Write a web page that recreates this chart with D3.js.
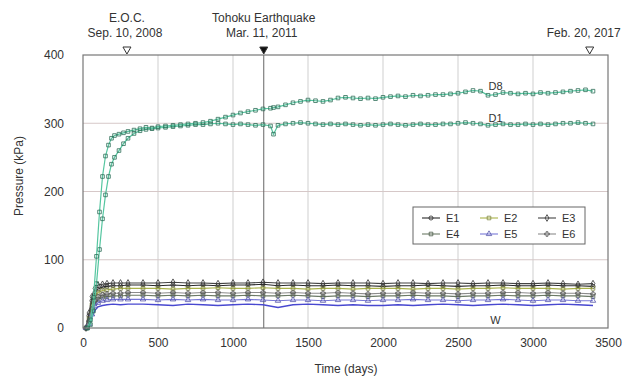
<!DOCTYPE html>
<html>
<head>
<meta charset="utf-8">
<script src="https://cdn.jsdelivr.net/npm/d3@7"></script>
<style>
  html, body { margin: 0; padding: 0; background: #fff; }
  svg { display: block; font-family: "Liberation Sans", Arial, sans-serif; }
</style>
</head>
<body>
<svg id="chart" width="638" height="378"></svg>
<script>
// ---- data -------------------------------------------------------------
// measurement days for the D gauges
const dDays = [30,50,70,90,110,130,150,170,190,210,
  240,270,300,340,380,420,460,500,
  550,600,650,700,750,800,850,900,950,1000,1050,1100,1150,1200,1250,
  1270,
  1300,1350,1400,1450,1500,1550,1600,1650,1700,1750,1800,1850,1900,1950,
  2000,2050,2100,2150,2200,2250,2300,2350,2400,2450,2500,2550,2600,2650,
  2700,2750,2800,2850,2900,2950,3000,3050,3100,3150,3200,3250,3300,3350,3400];

const d8 = [0,12,45,105,170,222,252,268,278,282,
  284,286,288,290,292,294,293,295,
  296,297,298,299,300,301,303,306,309,312,315,317,319,321,322,
  323,
  324,327,330,332,334,333,332,334,337,338,337,336,337,336,
  338,339,340,339,341,340,341,342,342,343,344,346,348,347,
  341,342,345,344,343,344,343,345,344,345,346,347,348,349,347];

const d1 = [0,5,25,65,115,160,195,222,240,250,
  260,270,278,285,289,291,292,293,
  294,295,296,297,298,298,299,300,299,298,299,298,297,298,296,
  284,
  297,299,300,301,300,299,298,299,298,299,298,297,298,297,
  298,299,298,297,298,299,298,298,299,299,300,301,300,299,
  297,298,299,298,298,299,298,299,298,299,300,300,301,300,299];

// measurement days for the E gauges and W
const eDays = [20,40,60,80,100,130,160,200,250,300,
  400,500,600,700,800,900,1000,1100,1200,1300,
  1400,1500,1600,1700,1800,1900,2000,2100,2200,2300,
  2400,2500,2600,2700,2800,2900,3000,3100,3200,3300,3400];

const e1 = [0,18,40,52,57,60,61,62,62,63,
  63,62,63,62,63,62,63,63,64,62,63,62,62,63,62,62,61,62,62,63,62,61,62,62,63,62,62,63,62,62,61];
const e2 = [0,14,34,46,52,55,56,57,58,58,
  58,58,57,58,58,59,58,58,59,58,58,57,58,58,57,58,58,58,57,58,58,57,58,58,59,58,58,58,57,58,58];
const e3 = [0,22,46,58,63,64,65,66,66,66,
  66,66,67,66,66,65,66,66,67,66,66,66,65,66,66,66,65,66,66,65,66,66,65,66,66,65,65,66,65,64,65];
const e4 = [0,8,24,36,42,45,46,47,47,48,
  48,47,48,47,48,47,47,48,47,47,48,47,46,47,47,46,47,47,48,47,47,46,47,47,48,47,47,48,47,47,46];
const e5 = [0,6,20,32,37,40,41,42,42,42,
  42,41,42,41,42,41,41,42,41,40,41,41,40,41,41,40,41,41,42,41,41,40,41,41,42,41,40,41,41,40,40];
const e6 = [0,10,28,40,46,49,50,51,51,52,
  52,51,52,51,52,52,51,52,52,51,52,51,51,52,51,50,51,51,52,51,51,50,51,51,52,52,51,52,51,51,50];
const w = [0,5,16,26,31,33,34,35,34,35,
  35,34,33,35,34,33,34,35,34,30,34,35,34,33,34,33,33,34,33,34,35,34,33,34,35,34,33,34,35,34,33];

const eNames = ["E1","E2","E3","E4","E5","E6"];
const xTicks = [0,500,1000,1500,2000,2500,3000,3500];
const yTicks = [0,100,200,300,400];

// key dates (day number) with their captions
const eventDays = [293, 1205, 3378];
const eventTitles = ["E.O.C.", "Tohoku Earthquake", ""];
const eventDates = ["Sep. 10, 2008", "Mar. 11, 2011", "Feb. 20, 2017"];

// ---- layout -----------------------------------------------------------
const svg = d3.select("#chart");
const pL = 83, pR = 608, pT = 55, pB = 328;

const x = d3.scaleLinear().domain([0, 3500]).range([pL, pR]);
const y = d3.scaleLinear().domain([0, 400]).range([pB, pT]);

// grid
const grid = svg.append("g");
grid.selectAll(".gx").data(xTicks.slice(1, -1)).join("line")
  .attr("x1", d => x(d)).attr("x2", d => x(d))
  .attr("y1", pT).attr("y2", pB)
  .attr("stroke", "#cfcfcf").attr("stroke-width", 1);
grid.selectAll(".gy").data(yTicks.slice(1, -1)).join("line")
  .attr("x1", pL).attr("x2", pR)
  .attr("y1", d => y(d)).attr("y2", d => y(d))
  .attr("stroke", "#d6c8c8").attr("stroke-width", 1);

// earthquake marker line
svg.append("line")
  .attr("x1", x(eventDays[1])).attr("x2", x(eventDays[1]))
  .attr("y1", pT).attr("y2", pB)
  .attr("stroke", "#666").attr("stroke-width", 1);

// axes (labels only)
const xAxis = svg.append("g").attr("transform", `translate(0,${pB})`)
  .call(d3.axisBottom(x).tickValues(xTicks).tickFormat(d3.format("d"))
    .tickSize(0).tickPadding(10));
const yAxis = svg.append("g").attr("transform", `translate(${pL},0)`)
  .call(d3.axisLeft(y).tickValues(yTicks).tickFormat(d3.format("d"))
    .tickSize(0).tickPadding(19));
[xAxis, yAxis].forEach(a => {
  a.select(".domain").remove();
  a.selectAll("text").attr("font-size", 12).attr("fill", "#333")
    .attr("font-family", "Liberation Sans, Arial, sans-serif");
});

svg.append("text").attr("x", 346).attr("y", 373)
  .attr("text-anchor", "middle").attr("font-size", 12).attr("fill", "#333")
  .text("Time (days)");
svg.append("text")
  .attr("transform", "translate(23,176) rotate(-90)")
  .attr("text-anchor", "middle").attr("font-size", 12).attr("fill", "#333")
  .text("Pressure (kPa)");

// ---- series -----------------------------------------------------------
const lineGen = d3.line().x(d => x(d[0])).y(d => y(d[1]));
const zip = (days, vals) => days.map((d, i) => [d, vals[i]]);

const plot = svg.append("g");

function drawSeries(days, vals, lineColor, markColor, symbol, size, fill, lw) {
  const pts = zip(days, vals);
  plot.append("path").datum(pts)
    .attr("d", lineGen).attr("fill", "none")
    .attr("stroke", lineColor).attr("stroke-width", lw);
  if (symbol) {
    plot.append("g").selectAll("path").data(pts).join("path")
      .attr("transform", d => `translate(${x(d[0])},${y(d[1])})`)
      .attr("d", d3.symbol().type(symbol).size(size))
      .attr("fill", fill).attr("stroke", markColor).attr("stroke-width", 0.8);
  }
}

const eStyle = [
  { line: "#2a2a2a", mark: "#2a2a2a", sym: d3.symbolCircle,   fill: "none" },
  { line: "#aab24a", mark: "#7e8640", sym: d3.symbolSquare,   fill: "none" },
  { line: "#444",    mark: "#333",    sym: d3.symbolDiamond,  fill: "none" },
  { line: "#6c7a66", mark: "#4a5a48", sym: d3.symbolSquare,   fill: "none" },
  { line: "#7878d8", mark: "#5555aa", sym: d3.symbolTriangle, fill: "none" },
  { line: "#8c8c8c", mark: "#555",    sym: d3.symbolCross,    fill: "none" }
];
const eVals = [e1, e2, e3, e4, e5, e6];

// W
drawSeries(eDays, w, "#4848d0", null, null, 0, "none", 1.4);
eVals.forEach((v, i) => {
  const s = eStyle[i];
  drawSeries(eDays, v, s.line, s.mark, s.sym, 13, s.fill, 1.1);
});

// D gauges
drawSeries(dDays, d1, "#55c6a0", "#2d6e58", d3.symbolSquare, 13, "none", 1.2);
drawSeries(dDays, d8, "#55c6a0", "#2d6e58", d3.symbolSquare, 13, "none", 1.2);

// plot frame
svg.append("rect").attr("x", pL).attr("y", pT)
  .attr("width", pR - pL).attr("height", pB - pT)
  .attr("fill", "none").attr("stroke", "#777").attr("stroke-width", 1.2);

// series labels
const lab = (t, day, v, dy) => svg.append("text")
  .attr("x", x(day)).attr("y", y(v) + dy)
  .attr("text-anchor", "middle").attr("font-size", 11).attr("fill", "#333").text(t);
lab("D8", 2750, d8[dDays.indexOf(2750)], -5);
lab("D1", 2750, d1[dDays.indexOf(2750)], -3);
lab("W", 2750, w[eDays.indexOf(2700)], 19);

// ---- event markers ----------------------------------------------------
const ev = svg.append("g");
eventDays.forEach((d, i) => {
  ev.append("path")
    .attr("d", `M${x(d) - 4},${pT - 8} L${x(d) + 4},${pT - 8} L${x(d)},${pT - 1} Z`)
    .attr("fill", i === 1 ? "#111" : "#fff")
    .attr("stroke", "#333").attr("stroke-width", 1);
  if (eventTitles[i]) {
    ev.append("text").attr("x", x(d)).attr("y", 22)
      .attr("text-anchor", "middle").attr("font-size", 12).attr("fill", "#333")
      .text(eventTitles[i]);
  }
  ev.append("text").attr("x", x(d) - (i === 2 ? 6 : 2)).attr("y", 37)
    .attr("text-anchor", "middle").attr("font-size", 12).attr("fill", "#333")
    .text(eventDates[i]);
});

// ---- legend -----------------------------------------------------------
const lg = svg.append("g");
lg.append("rect").attr("x", 413).attr("y", 207).attr("width", 172).attr("height", 37)
  .attr("fill", "#fff").attr("stroke", "#666").attr("stroke-width", 1);
eNames.forEach((n, i) => {
  const col = i % 3, row = Math.floor(i / 3);
  const lx = 422 + col * 58, ly = 218 + row * 16;
  const s = eStyle[i];
  lg.append("line").attr("x1", lx).attr("x2", lx + 18).attr("y1", ly).attr("y2", ly)
    .attr("stroke", s.line).attr("stroke-width", 1.1);
  lg.append("path").attr("transform", `translate(${lx + 9},${ly})`)
    .attr("d", d3.symbol().type(s.sym).size(13))
    .attr("fill", s.fill).attr("stroke", s.mark).attr("stroke-width", 0.8);
  lg.append("text").attr("x", lx + 24).attr("y", ly + 4)
    .attr("font-size", 11).attr("fill", "#333").text(n);
});
</script>
</body>
</html>
